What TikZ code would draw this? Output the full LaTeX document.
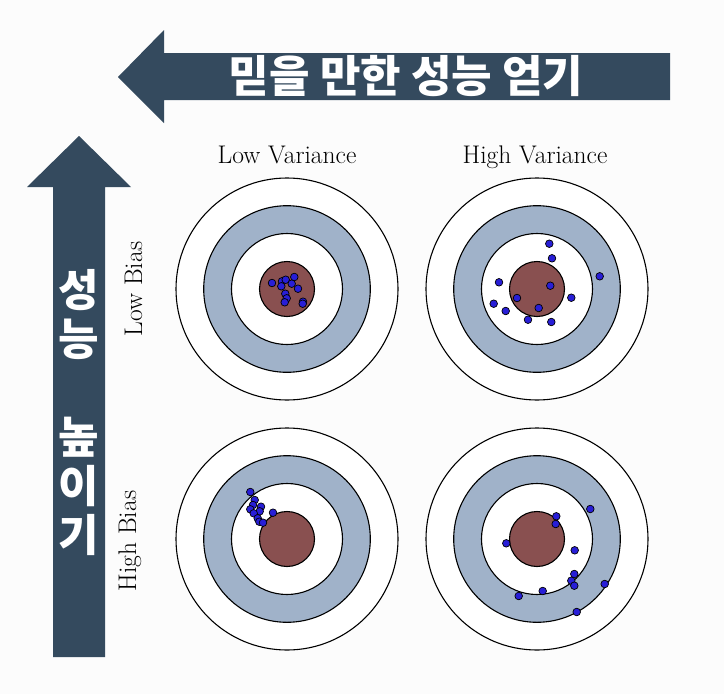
\documentclass[tikz,border=0pt]{standalone}
\usepackage{fontspec}
\newfontfamily\kr{Noto Sans CJK KR}
\definecolor{arrowc}{RGB}{52,74,94}
\definecolor{ringc}{RGB}{160,178,201}
\definecolor{bullc}{RGB}{137,80,80}
\definecolor{dotc}{RGB}{40,30,215}
\definecolor{bgc}{RGB}{252,252,252}
\tikzset{
  bigarrow/.style={fill=arrowc, draw=none},
  krtext/.style={text=white, font=\kr\bfseries\fontsize{44}{52}\selectfont, inner sep=0pt},
  lbl/.style={font=\fontsize{25.5}{30}\selectfont, inner sep=0pt},
  ringline/.style={draw=black, line width=1.1pt},
  shot/.style={fill=dotc, draw=black, line width=0.7pt},
  target/.pic={
    \filldraw[ringline, fill=white] (0,0) circle (111pt);
    \filldraw[ringline, fill=ringc] (0,0) circle (83.3pt);
    \filldraw[ringline, fill=white] (0,0) circle (55.5pt);
    \filldraw[ringline, fill=bullc] (0,0) circle (27.5pt);
  }
}
\begin{document}
\begin{tikzpicture}[x=1pt,y=-1pt]
\fill[bgc] (0,0) rectangle (724,694);
\useasboundingbox (0,0) rectangle (724,694);

% top arrow
\fill[bigarrow] (118,77) -- (164,30) -- (164,53) -- (670,53) -- (670,100) -- (164,100) -- (164,123) -- cycle;
\node[krtext] (toptext) at (406,76) {믿을 만한 성능 얻기};

% left arrow
\fill[bigarrow] (79,136) -- (131,187) -- (105,187) -- (105,657) -- (53,657) -- (53,187) -- (27,187) -- cycle;
\node[krtext] (c1) at (79,290) {성};
\node[krtext] (c2) at (79,339) {능};
\node[krtext] (c3) at (79,437) {높};
\node[krtext] (c4) at (79,486) {이};
\node[krtext] (c5) at (79,535) {기};

% labels
\node[lbl, anchor=base] (lv) at (287,163) {Low Variance};
\node[lbl, anchor=base] (hv) at (535,163) {High Variance};
\node[lbl, anchor=base, rotate=90] (lb) at (142,289) {Low Bias};
\node[lbl, anchor=base, rotate=90] (hb) at (136,541) {High Bias};

% targets
\pic at (287,289) {target};
\pic at (537,289) {target};
\pic at (287,539) {target};
\pic at (537,539) {target};

\begin{scope}[shift={(287,289)}]
\foreach \p in {(-15,-6),(-5,-7.7),(-1.3,-9.3),(7.3,-12),(4.7,-5.3),(-5.7,-2.7),(11,-0.3),(-1.7,4.7),(-0.3,9.3),(-2.3,13.3),(16,12.7),(15.7,14.7)}
  \filldraw[shot] \p circle (3.8pt);
\end{scope}
\begin{scope}[shift={(537,289)}]
\foreach \p in {(12.3,-45.3),(15,-30.7),(62.7,-12.7),(-38,-6.7),(13.3,-3.3),(-20,9),(34.3,8.7),(-43.3,14.7),(-31.3,22),(1.7,19),(-9,30.7),(14.3,33)}
  \filldraw[shot] \p circle (3.8pt);
\end{scope}
\begin{scope}[shift={(287,539)}]
\foreach \p in {(-36.7,-47),(-32.3,-39),(-34,-34),(-26,-32.3),(-36.7,-29.7),(-27.3,-27.7),(-33.3,-25.7),(-14,-26.3),(-29.3,-20.7),(-27.7,-17.3),(-24,-16.3)}
  \filldraw[shot] \p circle (3.8pt);
\end{scope}
\begin{scope}[shift={(537,539)}]
\foreach \p in {(53.3,-30),(19.3,-22.7),(18.7,-15),(-30.7,4.3),(37.7,11.3),(37.3,35),(34.3,41.7),(37.3,46.7),(67.7,45),(5.7,52),(-18.3,57),(39.7,73)}
  \filldraw[shot] \p circle (3.8pt);
\end{scope}
\end{tikzpicture}
\end{document}
